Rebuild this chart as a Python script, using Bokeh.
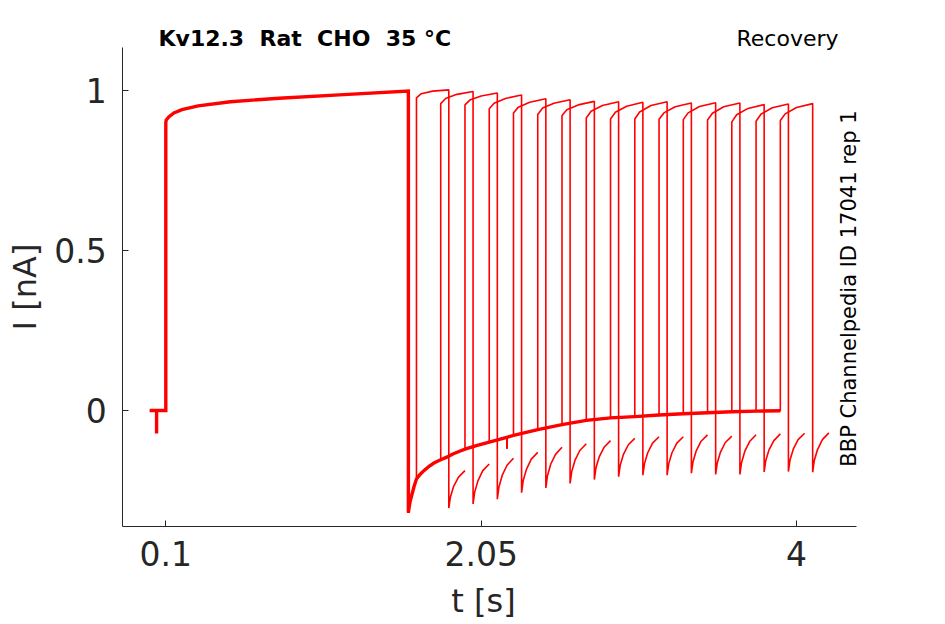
import math
from bokeh.plotting import figure
from bokeh.models import FixedTicker, Label, Range1d
from bokeh.embed import file_html
from bokeh.resources import INLINE

# ---- data (time in s, current in nA) ----
# holding before P1 (with a short capacitive dip)
pre_t = [0.0, 0.043, 0.043, 0.043, 0.1]
pre_i = [0.0, 0.0, -0.072, 0.0, 0.0]

# P1 (identical in every sweep)
p1_t = [0.1, 0.1, 0.103, 0.12, 0.15, 0.2, 0.3, 0.5, 0.8, 1.2, 1.6]
p1_i = [0.0, 0.90, 0.908, 0.918, 0.93, 0.94, 0.952, 0.965, 0.976, 0.987, 0.998]

# tail after P1 (common to all sweeps, each sweep stops at its P2 start)
tail_t = [1.6, 1.606, 1.612, 1.623, 1.636, 1.65, 1.672, 1.696, 1.726, 1.758,
          1.8, 1.841, 1.875, 1.913, 1.95, 2.02, 2.1, 2.25, 2.4, 2.55, 2.7,
          2.85, 3.0, 3.15, 3.3, 3.45, 3.6, 3.75, 3.9]
tail_i = [-0.319, -0.298, -0.282, -0.261, -0.236, -0.214, -0.200, -0.188,
          -0.175, -0.164, -0.154, -0.145, -0.136, -0.128, -0.121, -0.110,
          -0.099, -0.078, -0.060, -0.044, -0.031, -0.023, -0.019, -0.014,
          -0.010, -0.007, -0.004, -0.002, -0.001]

# glitch on the tail
glitch_t = [2.21, 2.21]
glitch_i = [-0.085, -0.120]

# P2 start times of the 16 sweeps
p2_t = [1.65, 1.8, 1.95, 2.1, 2.25, 2.4, 2.55, 2.7, 2.85, 3.0, 3.15, 3.3,
        3.45, 3.6, 3.75, 3.9]
# P2 current at offsets p2_dt after P2 start
p2_dt = [0.0, 0.03, 0.1, 0.2]
p2_a = [0.977, 0.959, 0.955, 0.943, 0.930, 0.925, 0.922, 0.914, 0.911, 0.911,
        0.910, 0.909, 0.908, 0.902, 0.904, 0.906]
p2_b = [0.990, 0.975, 0.970, 0.960, 0.948, 0.945, 0.940, 0.935, 0.932, 0.933,
        0.930, 0.930, 0.929, 0.924, 0.926, 0.927]
p2_c = [0.998, 0.988, 0.983, 0.975, 0.963, 0.960, 0.955, 0.953, 0.951, 0.953,
        0.949, 0.950, 0.949, 0.944, 0.946, 0.947]
p2_d = [1.002, 0.997, 0.992, 0.986, 0.974, 0.971, 0.966, 0.965, 0.963, 0.965,
        0.961, 0.962, 0.961, 0.956, 0.958, 0.959]
# tail after P2 at offsets post_dt after P2 end
post_dt = [0.0, 0.01, 0.03, 0.06, 0.1]
post_a = [-0.305, -0.292, -0.277, -0.257, -0.242, -0.228, -0.216, -0.207,
          -0.202, -0.202, -0.196, -0.200, -0.200, -0.192, -0.191, -0.193]
post_b = [-0.270, -0.255, -0.239, -0.219, -0.204, -0.191, -0.179, -0.171,
          -0.166, -0.166, -0.160, -0.164, -0.163, -0.156, -0.155, -0.156]
post_c = [-0.237, -0.220, -0.203, -0.184, -0.168, -0.156, -0.145, -0.137,
          -0.132, -0.132, -0.126, -0.130, -0.128, -0.123, -0.121, -0.122]
post_d = [-0.208, -0.188, -0.171, -0.152, -0.137, -0.125, -0.115, -0.107,
          -0.102, -0.102, -0.096, -0.100, -0.097, -0.094, -0.091, -0.091]
post_e = [-0.188, -0.167, -0.149, -0.131, -0.115, -0.104, -0.094, -0.087,
          -0.082, -0.082, -0.076, -0.080, -0.076, -0.073, -0.071, -0.070]
p2_len = 0.2

x_ticks = [0.1, 2.05, 4]
y_ticks = [0, 0.5, 1]

# axes extents
x0, x1 = -0.1659, 4.371
y0, y1 = -0.3625, 1.134

# ---- figure ----
RED = "#ff0000"
INK = "#262626"
FONT = "DejaVu Sans"
W, H = 937, 620
SX = (796 - 165.3) / 3.9   # px per second
SY = 320.0                 # px per nA
def X(px):
    return 0.1 + (px - 165.3) / SX
def Y(py):
    return 1 + (90 - py) / SY

p = figure(width=W, height=H, output_backend="svg", toolbar_location=None,
           x_range=Range1d(X(0), X(W)), y_range=Range1d(Y(H), Y(0)),
           min_border=0)
p.outline_line_color = None
p.grid.visible = False
p.background_fill_color = "white"
p.border_fill_color = "white"

xa, ya = p.xaxis[0], p.yaxis[0]
for ax in (xa, ya):
    ax.axis_line_color = INK
    ax.axis_line_width = 1
    ax.major_tick_line_color = INK
    ax.major_tick_in = 6
    ax.major_tick_out = 0
    ax.minor_tick_line_color = None
    ax.major_label_text_font = FONT
    ax.major_label_text_font_size = "33px"
    ax.major_label_text_color = INK
xa.ticker = FixedTicker(ticks=x_ticks)
ya.ticker = FixedTicker(ticks=y_ticks)
xa.major_label_overrides = {0.1: "0.1", 2.05: "2.05", 4: "4"}
ya.major_label_overrides = {0: "0", 0.5: "0.5", 1: "1"}
xa.major_label_standoff = 14
ya.major_label_standoff = 16
xa.fixed_location = y0
xa.bounds = (x0, x1)
ya.fixed_location = x0
ya.bounds = (y0, y1)

# individual sweeps (tail until P2, P2, tail after P2)
xs, ys = [], []
for k, ts in enumerate(p2_t):
    sx = [t for t in tail_t if t <= ts + 1e-9]
    sy = [v for t, v in zip(tail_t, tail_i) if t <= ts + 1e-9]
    for dt, v in zip(p2_dt, [p2_a[k], p2_b[k], p2_c[k], p2_d[k]]):
        sx.append(ts + dt)
        sy.append(v)
    for dt, v in zip(post_dt, [post_a[k], post_b[k], post_c[k], post_d[k], post_e[k]]):
        sx.append(ts + p2_len + dt)
        sy.append(v)
    xs.append(sx)
    ys.append(sy)
p.multi_line(xs, ys, line_color=RED, line_width=1.6)

# common part (overlapping sweeps look thicker)
common_t = pre_t + p1_t + tail_t
common_i = pre_i + p1_i + tail_i
p.line(common_t, common_i, line_color=RED, line_width=3.4, line_join="miter")
p.line(glitch_t, glitch_i, line_color=RED, line_width=2.0)

# ---- texts (canvas pixel positions) ----
def lab(x, y, text, size, color, align, angle=0.0, style="normal"):
    p.add_layout(Label(x=x, y=y, x_units="canvas", y_units="canvas", text=text,
                       angle=angle, text_font=FONT, text_font_size=size,
                       text_font_style=style, text_color=color,
                       text_align=align, text_baseline="alphabetic"))

lab(158, 37.5, "Kv12.3 \u00a0Rat \u00a0CHO \u00a035 °C", "22px", "black", "left", style="bold")
lab(838, 37.5, "Recovery", "22px", "black", "right")
lab(848, 288, "BBP Channelpedia ID 17041 rep 1", "21px", "black", "center", angle=math.pi / 2)
lab(24, 286.5, "I [nA]", "32px", INK, "center", angle=math.pi / 2)
lab(483, 600, "t [s]", "32px", INK, "center")

open("out.html", "w").write(file_html(p, INLINE))
